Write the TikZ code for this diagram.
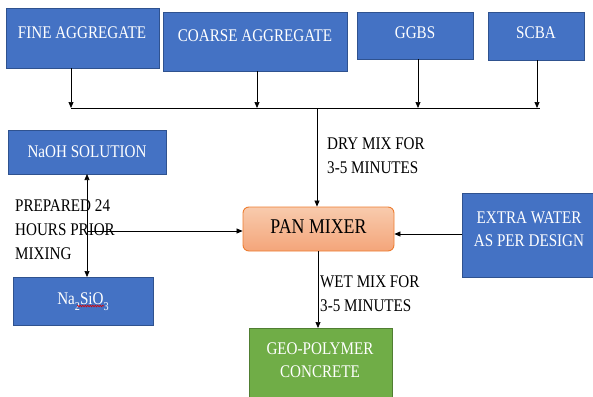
\documentclass[tikz,border=0pt]{standalone}
\usepackage{fontspec}
\setmainfont{Liberation Serif}
\usetikzlibrary{arrows.meta,decorations.pathmorphing}
\definecolor{bbox}{HTML}{4472C4}
\definecolor{bline}{HTML}{2F528F}
\definecolor{gbox}{HTML}{70AD47}
\definecolor{gline}{HTML}{507E32}
\definecolor{otop}{HTML}{F8CBAD}
\definecolor{obot}{HTML}{F4A57A}
\definecolor{oline}{HTML}{ED7D31}
\newcommand{\sqz}[2][c]{\scalebox{0.85}[1]{\begin{tabular}{@{}#1@{}}#2\end{tabular}}}
\tikzset{
  bluebox/.style={draw=bline,fill=bbox,line width=0.9pt},
  greenbox/.style={draw=gline,fill=gbox,line width=0.9pt},
  wtxt/.style={text=white,font=\fontsize{17.8}{23}\selectfont,inner sep=0pt,yshift=-2pt},
  ktxt/.style={text=black,font=\fontsize{17.8}{24}\selectfont,inner sep=0pt,yshift=-2pt},
  arr/.style={-{Triangle[length=6pt,width=5pt]},line width=0.7pt,black},
  ln/.style={line width=0.7pt,black}
}
\begin{document}
\begin{tikzpicture}[x=1pt,y=-1pt]
\useasboundingbox (0,0) rectangle (593,396);
% top boxes
\path[bluebox] (6,8) rectangle (159,68);
\node[wtxt] (fa) at (82,32) {\sqz{FINE AGGREGATE}};
\path[bluebox] (163,12) rectangle (347,71);
\node[wtxt] (ca) at (255,35) {\sqz{COARSE AGGREGATE}};
\path[bluebox] (357,12) rectangle (473,59);
\node[wtxt] (gg) at (415,32) {\sqz{GGBS}};
\path[bluebox] (488,12) rectangle (584,60);
\node[wtxt] (sc) at (536,32) {\sqz{SCBA}};
% bus
\coordinate (faB) at (71,68);
\coordinate (caB) at (257,71);
\coordinate (ggB) at (418,59);
\coordinate (scB) at (537,60);
\coordinate (busL) at (71,108);
\coordinate (busR) at (540,108);
\coordinate (busM) at (317,108);
\draw[ln] (busL) -- (busR);
\draw[arr] (faB) -- (faB |- busL);
\draw[arr] (caB) -- (caB |- busL);
\draw[arr] (ggB) -- (ggB |- busL);
\draw[arr] (scB) -- (scB |- busL);
% pan mixer
\node[draw=oline,line width=0.9pt,rounded corners=6pt,top color=otop,bottom color=obot,
  minimum width=151pt,minimum height=44pt,inner sep=0pt,
  font=\fontsize{21}{24}\selectfont] (pan) at (318.5,229) {\sqz{PAN MIXER}};
\draw[arr] (busM) -- (busM |- pan.north);
\node[ktxt,anchor=west] (dry) at (327,155) {\sqz[l]{DRY MIX FOR\\3-5 MINUTES}};
% NaOH and Na2SiO3
\path[bluebox] (8,130) rectangle (166,174);
\node[wtxt] (naoh) at (87,151) {\sqz{NaOH SOLUTION}};
\path[bluebox] (13,277) rectangle (153,325);
\node[wtxt] (nasi) at (83,298) {\sqz{Na\raisebox{-0.35em}{\fontsize{12}{12}\selectfont 2}SiO\raisebox{-0.35em}{\fontsize{12}{12}\selectfont 3}}};
\draw[red!85!black,line width=0.6pt,decorate,decoration={snake,amplitude=0.8pt,segment length=2.5pt}] (77,306) -- (104,306);
\coordinate (dTop) at (87,174);
\coordinate (dBot) at (87,277);
\draw[{Triangle[length=6pt,width=5pt]}-{Triangle[length=6pt,width=5pt]},line width=0.7pt] (dTop) -- (dBot);
\node[ktxt,anchor=west] (prep) at (15,229) {\sqz[l]{PREPARED 24\\HOURS PRIOR\\MIXING}};
\coordinate (hL) at (87,231);
\draw[arr] (hL) -- (hL -| pan.west);
% extra water
\path[bluebox] (462,193) rectangle (597,277);
\node[wtxt] (ew) at (529,228.5) {\sqz{EXTRA WATER\\AS PER DESIGN}};
\coordinate (ewL) at (462,234);
\draw[arr] (ewL) -- (ewL -| pan.east);
% geopolymer
\path[greenbox] (249,328) rectangle (392,402);
\node[wtxt] (geo) at (320,359.5) {\sqz{GEO-POLYMER\\CONCRETE}};
\coordinate (pB) at (318,251);
\draw[arr] (pB) -- (318,328);
\node[ktxt,anchor=west] (wet) at (320,292.5) {\sqz[l]{WET MIX FOR\\3-5 MINUTES}};
\end{tikzpicture}
\end{document}
